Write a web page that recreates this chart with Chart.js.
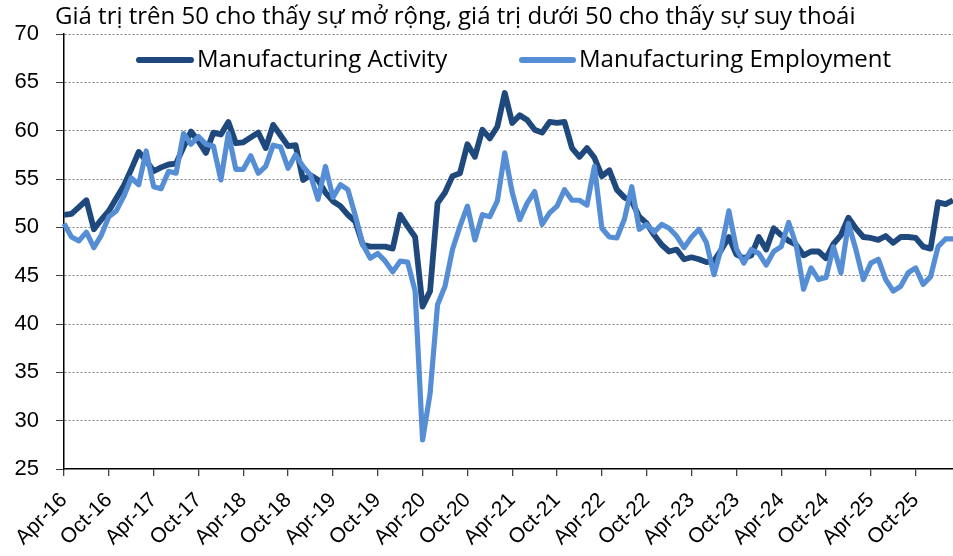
<!DOCTYPE html>
<html>
<head>
<meta charset="utf-8">
<script src="https://cdn.jsdelivr.net/npm/chart.js@4.4.1/dist/chart.umd.min.js"></script>
<style>
  html, body { margin: 0; padding: 0; background: #fff; }
  #wrap { width: 953px; height: 556px; position: relative; }
</style>
</head>
<body>
<div id="wrap"><canvas id="chart1"></canvas></div>
<script>
const chartTitle = 'Giá trị trên 50 cho thấy sự mở rộng, giá trị dưới 50 cho thấy sự suy thoái';
const seriesNames = ['Manufacturing Activity', 'Manufacturing Employment'];
const seriesColors = ['#1F497D', '#558ED5'];

// monthly, Apr-16 .. Mar-26
const monthNames = ['Jan', 'Feb', 'Mar', 'Apr', 'May', 'Jun', 'Jul', 'Aug', 'Sep', 'Oct', 'Nov', 'Dec'];
const firstMonth = { year: 2016, month: 3 };
const monthCount = 120;

const activity = [
    51.3, 51.4, 52.1, 52.8, 49.8, 50.8, 51.7, 53.0, 54.3, 56.0, 57.8, 56.9,
    55.8, 56.2, 56.5, 56.6, 58.3, 59.9, 58.9, 57.7, 59.8, 59.6, 60.9, 58.7,
    58.8, 59.3, 59.8, 58.2, 60.6, 59.5, 58.4, 58.5, 54.9, 55.4, 54.9, 53.6,
    52.7, 52.2, 51.3, 50.6, 48.2, 48.0, 48.0, 48.0, 47.8, 51.3, 50.1, 49.0,
    41.8, 43.4, 52.5, 53.6, 55.3, 55.6, 58.6, 57.3, 60.1, 59.2, 60.4, 63.9,
    60.8, 61.6, 61.1, 60.1, 59.8, 60.9, 60.8, 60.9, 58.2, 57.3, 58.2, 57.2,
    55.3, 55.9, 53.9, 53.1, 52.7, 51.1, 50.4, 49.2, 48.2, 47.5, 47.7, 46.7,
    46.9, 46.7, 46.4, 46.5, 47.7, 49.0, 47.2, 46.8, 47.1, 49.0, 47.7, 49.9,
    49.2, 48.6, 48.2, 47.1, 47.5, 47.5, 46.8, 48.3, 49.2, 51.0, 49.9, 49.0,
    48.9, 48.7, 49.1, 48.4, 49.0, 49.0, 48.9, 48.0, 47.8, 52.6, 52.4, 52.8
];

const employment = [
    50.4, 49.0, 48.6, 49.5, 47.9, 49.2, 51.1, 51.7, 53.2, 55.1, 54.4, 57.9,
    54.2, 54.0, 55.8, 55.6, 59.7, 58.6, 59.4, 58.6, 58.4, 54.9, 59.7, 56.0,
    56.0, 57.4, 55.6, 56.3, 58.5, 58.3, 56.1, 57.5, 56.3, 55.4, 52.9, 56.3,
    53.1, 54.4, 53.9, 51.2, 48.2, 46.8, 47.3, 46.5, 45.4, 46.5, 46.4, 43.4,
    28.0, 32.8, 42.0, 43.9, 47.7, 50.1, 52.2, 48.7, 51.3, 51.1, 52.7, 57.7,
    53.6, 50.8, 52.5, 53.7, 50.3, 51.5, 52.2, 53.9, 52.8, 52.8, 52.3, 56.3,
    49.9, 49.0, 48.9, 50.8, 54.2, 49.8, 50.3, 49.5, 50.3, 49.9, 49.1, 47.9,
    49.0, 49.8, 48.4, 45.1, 47.9, 51.7, 47.8, 46.3, 47.7, 47.3, 46.1, 47.5,
    48.0, 50.5, 48.2, 43.6, 45.8, 44.6, 44.8, 48.0, 45.3, 50.4, 47.7, 44.6,
    46.3, 46.7, 44.6, 43.4, 43.9, 45.3, 45.8, 44.1, 44.9, 48.0, 48.8, 48.8
];

const labels = [];
for (let k = 0; k < monthCount; k++) {
    const m = (firstMonth.month + k) % 12;
    const y = firstMonth.year + Math.floor((firstMonth.month + k) / 12);
    labels.push(monthNames[m] + '-' + String(y).slice(2));
}

// only Apr and Oct get a label (null drops the tick and its mark)
function isShown(i) {
    const l = labels[i] || '';
    return l.startsWith('Apr') || l.startsWith('Oct');
}

const overlay = {
    id: 'overlay',
    afterDraw(chart) {
        const ctx = chart.ctx;
        ctx.save();
        ctx.fillStyle = '#000';
        ctx.textBaseline = 'middle';
        ctx.font = '24px "Open Sans"';
        ctx.fillText(chartTitle, 55, 17);

        const items = [
            { x1: 139, x2: 191, tx: 197 },
            { x1: 522, x2: 573, tx: 579 }
        ];
        chart.data.datasets.forEach((ds, i) => {
            const it = items[i];
            ctx.strokeStyle = ds.borderColor;
            ctx.lineWidth = 6;
            ctx.lineCap = 'round';
            ctx.beginPath();
            ctx.moveTo(it.x1, 60);
            ctx.lineTo(it.x2, 60);
            ctx.stroke();
            ctx.fillStyle = '#000';
            ctx.fillText(ds.label, it.tx, 60);
        });
        ctx.restore();
    }
};

const data = {
    labels: labels,
    datasets: [
        {
            label: seriesNames[0],
            data: activity,
            borderColor: seriesColors[0],
            borderWidth: 5.8,
            pointRadius: 0,
            borderJoinStyle: 'round',
            order: 2
        },
        {
            label: seriesNames[1],
            data: employment,
            borderColor: seriesColors[1],
            borderWidth: 5.2,
            pointRadius: 0,
            borderJoinStyle: 'round',
            order: 1
        }
    ]
};

const options = {
    responsive: true,
    maintainAspectRatio: false,
    animation: false,
    layout: { padding: { top: 34, right: 0, left: 0, bottom: 0 } },
    plugins: {
        legend: { display: false },
        tooltip: { enabled: false }
    },
    scales: {
        x: {
            type: 'category',
            offset: false,
            grid: {
                drawOnChartArea: false,
                color: '#404040',
                tickLength: 7,
                lineWidth: 1.3
            },
            border: { color: '#000', width: 1.5 },
            ticks: {
                autoSkip: false,
                maxRotation: 45,
                minRotation: 45,
                padding: 12,
                color: '#000',
                font: { family: '"Liberation Sans", Arial', size: 21 },
                callback: (val, i) => isShown(i) ? labels[i] : null
            },
            afterFit(scale) { scale.height = 87; }
        },
        y: {
            min: 25,
            max: 70,
            grid: {
                color: ctx => ctx.tick && ctx.tick.value === 25 ? 'rgba(0,0,0,0)' : '#808080',
                lineWidth: 1,
                tickColor: '#404040',
                tickLength: 8
            },
            border: { display: true, color: '#000', width: 1.5, dash: [2, 2] },
            ticks: {
                stepSize: 5,
                padding: 17,
                color: '#000',
                font: { family: '"Liberation Sans", Arial', size: 22 }
            },
            afterFit(scale) { scale.width = 64; }
        }
    }
};

new Chart('chart1', { type: 'line', data, options, plugins: [overlay] });
</script>
</body>
</html>
